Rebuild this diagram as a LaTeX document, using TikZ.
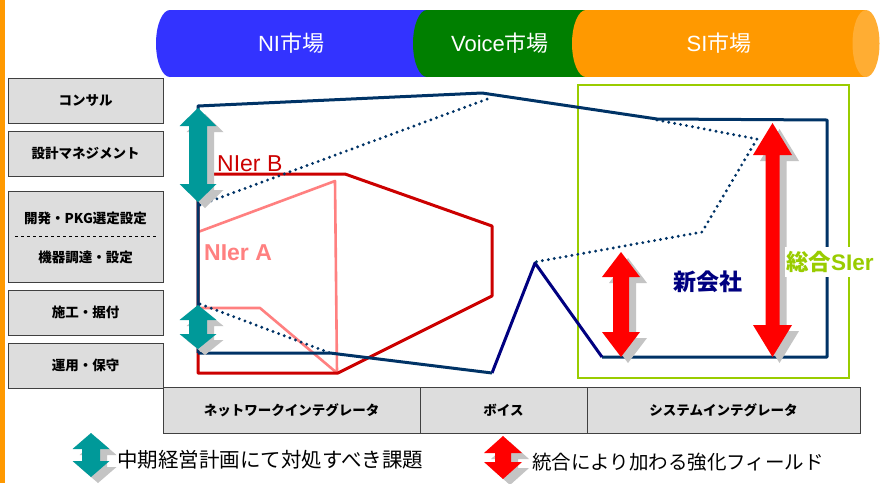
\documentclass[tikz,border=0pt]{standalone}
\usepackage{fontspec}
\setmainfont{Liberation Sans}
\newfontfamily\jp{Noto Sans CJK JP}
\definecolor{niblue}{HTML}{3333FF}
\definecolor{vgreen}{HTML}{007F00}
\definecolor{siorange}{HTML}{FF9900}
\definecolor{sicap}{HTML}{FFAD33}
\definecolor{tealc}{HTML}{009999}
\definecolor{redc}{HTML}{FF0000}
\definecolor{navyc}{HTML}{003366}
\definecolor{navyb}{HTML}{000080}
\definecolor{nierb}{HTML}{CC0000}
\definecolor{niera}{HTML}{FF8080}
\definecolor{ygreen}{HTML}{99CC00}
\definecolor{boxfill}{HTML}{DDDDDD}
\definecolor{boxline}{HTML}{404040}
\definecolor{shadowc}{HTML}{C4C4C4}
\newcommand\dblarrow[7]{%
  \fill[shadowc] ({#1+7},{#2+6}) -- ({#1+7+#4},{#2+6+#6}) -- ({#1+7+#5},{#2+6+#6}) -- ({#1+7+#5},{#3+6-#6}) -- ({#1+7+#4},{#3+6-#6}) -- ({#1+7},{#3+6}) -- ({#1+7-#4},{#3+6-#6}) -- ({#1+7-#5},{#3+6-#6}) -- ({#1+7-#5},{#2+6+#6}) -- ({#1+7-#4},{#2+6+#6}) -- cycle;
  \fill[#7] ({#1},{#2}) -- ({#1+#4},{#2+#6}) -- ({#1+#5},{#2+#6}) -- ({#1+#5},{#3-#6}) -- ({#1+#4},{#3-#6}) -- ({#1},{#3}) -- ({#1-#4},{#3-#6}) -- ({#1-#5},{#3-#6}) -- ({#1-#5},{#2+#6}) -- ({#1-#4},{#2+#6}) -- cycle;}
\tikzset{
  rowbox/.style={draw=boxline, fill=boxfill, line width=0.9pt, inner sep=0pt,
    font=\jp\bfseries\fontsize{13.5}{14}\selectfont, text=black},
  bartext/.style={text=white, font=\fontsize{22}{22}\selectfont},
  navyline/.style={draw=navyc, line width=3pt, line join=round},
  dotline/.style={draw=navyc, line width=3.2pt, line cap=round, dash pattern=on 0pt off 6pt},
}
\begin{document}
\begin{tikzpicture}[x=1pt,y=-1pt]
\useasboundingbox (0,0) rectangle (880,483);
\fill[white] (0,0) rectangle (880,483);
\fill[siorange] (0,0) rectangle (5,483);
% cylinder bars
\fill[niblue] (170,10) rectangle (440,77);
\fill[niblue] (170,43.5) ellipse [x radius=14, y radius=33.5];
\fill[vgreen] (427,10) rectangle (600,77);
\fill[vgreen] (427,43.5) ellipse [x radius=14, y radius=33.5];
\fill[siorange] (586,10) rectangle (866,77);
\fill[siorange] (586,43.5) ellipse [x radius=14, y radius=33.5];
\fill[sicap] (866,43.5) ellipse [x radius=13.5, y radius=33.5];
\node[bartext] (ni) at (291,43) {NI{\jp 市場}};
\node[bartext] (voice) at (500,43) {Voice{\jp 市場}};
\node[bartext] (si) at (719,43) {SI{\jp 市場}};
% row boxes
\node[rowbox, minimum width=155pt, minimum height=45pt] (r1) at (85.5,100.5) {コンサル};
\node[rowbox, minimum width=155pt, minimum height=45pt] (r2) at (85.5,153.5) {設計マネジメント};
\node[rowbox, minimum width=155pt, minimum height=91pt] (r3) at (85.5,236.5) {};
\node[font=\jp\bfseries\fontsize{13.5}{14}\selectfont] (r3a) at (85.5,218) {開発・PKG選定設定};
\node[font=\jp\bfseries\fontsize{13.5}{14}\selectfont] (r3b) at (85.5,257) {機器調達・設定};
\draw[dashed, black, line width=0.5pt] (15,236) -- (156,236);
\node[rowbox, minimum width=155pt, minimum height=45pt] (r4) at (85.5,312.5) {施工・据付};
\node[rowbox, minimum width=155pt, minimum height=45pt] (r5) at (85.5,365.5) {運用・保守};
% column boxes
\node[rowbox, minimum width=257pt, minimum height=46pt] (c1) at (291.5,410) {ネットワークインテグレータ};
\node[rowbox, minimum width=167pt, minimum height=46pt] (c2) at (503.5,410) {ボイス};
\node[rowbox, minimum width=273pt, minimum height=46pt] (c3) at (723.5,410) {システムインテグレータ};
% green frame
\draw[ygreen, line width=2.5pt] (578,85) rectangle (849,378);
% NIer A
\draw[niera, line width=2.6pt, line join=round] (198,232) -- (335,181) -- (337,373) -- (260,308) -- (198,308);
% NIer B
\draw[nierb, line width=3pt, line join=round] (198,174) -- (345,174) -- (492,226) -- (492,296) -- (338,373) -- (198,373) -- cycle;
% new company outline
\draw[navyline] (198,353) -- (198,106) -- (482,93) -- (657,119) -- (827,120) -- (827,357) -- (602,357);
\draw[navyb, line width=3pt, line join=round] (602,357) -- (535,263) -- (492,373);
\draw[navyline] (492,373) -- (330,353) -- (198,353);
% dotted lines
\draw[dotline] (200,205) -- (490,98);
\draw[dotline] (200,304) -- (330,353);
\draw[dotline] (657,120) -- (757,139) -- (702,232) -- (535,262);
% labels
\node[text=nierb, font=\fontsize{23}{23}\selectfont, anchor=base west, inner sep=0pt] (nb) at (217,171) {NIer B};
\node[text=niera, font=\bfseries\fontsize{23}{23}\selectfont, anchor=base west, inner sep=0pt] (na) at (204,260) {NIer A};
% arrows
\dblarrow{198}{108}{202}{18.5}{9}{18}{tealc}
\dblarrow{198}{305}{349}{18.5}{9}{15}{tealc}
\dblarrow{621}{252}{357}{19}{8}{25}{redc}
\dblarrow{772.5}{123}{357}{19.5}{7}{32}{redc}
\node[text=navyb, font=\jp\bfseries\fontsize{23}{23}\selectfont] (shin) at (708,281.5) {新会社};
\node[text=ygreen, fill=white, font=\bfseries\fontsize{22.5}{23}\selectfont, anchor=west, inner xsep=1pt, inner ysep=4pt] (sogo) at (785,262) {{\jp 総合}SIer};
% legend
\dblarrow{91}{433}{477}{18.5}{9}{16}{tealc}
\node[anchor=west, font=\jp\fontsize{20.5}{21}\selectfont, inner sep=0pt] (leg1) at (117,460) {中期経営計画にて対処すべき課題};
\dblarrow{503}{436}{479}{19}{8}{17}{redc}
\node[anchor=west, font=\jp\fontsize{19.5}{20}\selectfont, inner sep=0pt] (leg2) at (532,462) {統合により加わる強化フィールド};
\end{tikzpicture}
\end{document}
